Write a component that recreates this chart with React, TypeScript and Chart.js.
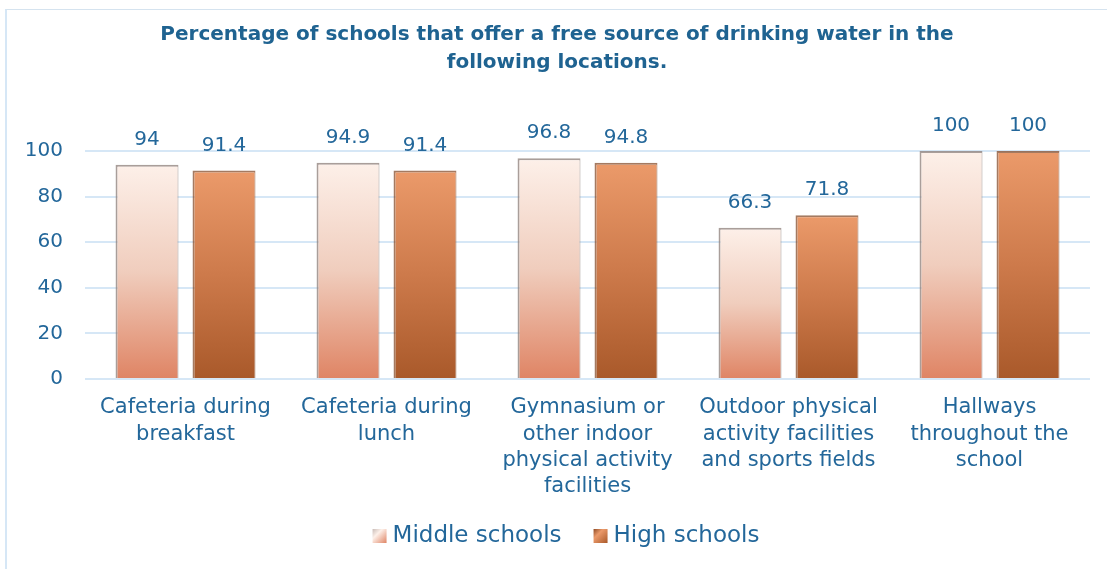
import React, { useEffect, useRef } from "react";
import { Chart, registerables } from "chart.js";

Chart.register(...registerables);

const titleLines = [
  "Percentage of schools that offer a free source of drinking water in the",
  "following locations.",
];
const categories: string[][] = [
  ["Cafeteria during", "breakfast"],
  ["Cafeteria during", "lunch"],
  ["Gymnasium or", "other indoor", "physical activity", "facilities"],
  ["Outdoor physical", "activity facilities", "and sports fields"],
  ["Hallways", "throughout the", "school"],
];
const seriesNames = ["Middle schools", "High schools"];
const middleSchools = [94, 94.9, 96.8, 66.3, 100];
const highSchools = [91.4, 91.4, 94.8, 71.8, 100];
const yMin = 0;
const yMax = 100;
const yStep = 20;

const BLUE = "#23679a";
const FONT = '"DejaVu Sans", sans-serif';

const gradStops = [
  ["#fdf0e9", "#f0cdbd", "#df8464"],
  ["#eb9a6a", "#cd7a4b", "#a9592a"],
];
const borderCols = ["rgba(140,125,120,0.75)", "rgba(125,65,30,0.7)"];

function barGradient(ctx: any, di: number) {
  const chart = ctx.chart;
  const { chartArea, scales } = chart;
  if (!chartArea || !scales || !scales.y || ctx.type !== "data") return gradStops[di][1];
  const v = ctx.raw as number;
  const top = scales.y.getPixelForValue(v);
  const bottom = scales.y.getPixelForValue(0);
  const g = chart.ctx.createLinearGradient(0, top, 0, bottom);
  g.addColorStop(0, gradStops[di][0]);
  g.addColorStop(0.5, gradStops[di][1]);
  g.addColorStop(1, gradStops[di][2]);
  return g;
}

const titlePlugin = {
  id: "customTitle",
  afterDraw(chart: any) {
    const ctx = chart.ctx;
    ctx.save();
    ctx.font = `bold 20px ${FONT}`;
    ctx.fillStyle = "#1f6391";
    ctx.textAlign = "center";
    ctx.textBaseline = "middle";
    titleLines.forEach((line, i) => {
      ctx.fillText(line, 557, 35 + i * 28);
    });
    ctx.restore();
  },
};

const labelsPlugin = {
  id: "valueLabels",
  afterDatasetsDraw(chart: any) {
    const ctx = chart.ctx;
    ctx.save();
    ctx.font = `20px ${FONT}`;
    ctx.fillStyle = BLUE;
    ctx.textAlign = "center";
    ctx.textBaseline = "middle";
    chart.data.datasets.forEach((ds: any, i: number) => {
      const meta = chart.getDatasetMeta(i);
      meta.data.forEach((el: any, j: number) => {
        ctx.fillText(String(ds.data[j]), el.x, el.y - 25);
      });
    });
    ctx.restore();
  },
};

const legendPlugin = {
  id: "customLegend",
  afterDraw(chart: any) {
    const ctx = chart.ctx;
    ctx.save();
    ctx.font = `23px ${FONT}`;
    const box = 14;
    const gapBoxText = 6;
    const gapItems = 32;
    const widths = seriesNames.map((n) => ctx.measureText(n).width);
    const total = widths.reduce((a, w) => a + box + gapBoxText + w, 0) + gapItems;
    let x = 566 - total / 2;
    const cy = 536;
    seriesNames.forEach((name, i) => {
      const g = ctx.createLinearGradient(x, cy - box / 2, x + box, cy + box / 2);
      g.addColorStop(0, i === 0 ? "#c9bcb7" : "#8e4a24");
      g.addColorStop(0.35, gradStops[i][0]);
      g.addColorStop(1, gradStops[i][2]);
      ctx.fillStyle = g;
      ctx.fillRect(x, cy - box / 2, box, box);
      x += box + gapBoxText;
      ctx.fillStyle = BLUE;
      ctx.textAlign = "left";
      ctx.textBaseline = "middle";
      ctx.fillText(name, x, cy);
      x += widths[i] + gapItems;
    });
    ctx.restore();
  },
};

export default function App() {
  const ref = useRef<HTMLCanvasElement>(null);
  useEffect(() => {
    if (!ref.current) return;
    const chart = new Chart(ref.current, {
      type: "bar",
      data: {
        labels: categories,
        datasets: [middleSchools, highSchools].map((d, i) => ({
          label: seriesNames[i],
          data: d,
          backgroundColor: (c: any) => barGradient(c, i),
          borderColor: borderCols[i],
          borderWidth: { top: 2, left: 2, right: 1, bottom: 0 },
          borderSkipped: false,
          categoryPercentage: 0.766,
          barPercentage: 0.818,
        })),
      },
      options: {
        animation: false,
        responsive: false,
        layout: { padding: { left: 0, right: 17, top: 151, bottom: 70 } },
        plugins: {
          legend: { display: false },
          tooltip: { enabled: false },
          title: { display: false },
        },
        scales: {
          x: {
            grid: { display: false, drawTicks: false },
            border: { display: false },
            ticks: {
              color: BLUE,
              font: { family: FONT, size: 21, lineHeight: 1.24 },
              padding: 16,
              maxRotation: 0,
              autoSkip: false,
            },
            afterFit: (s: any) => {
              s.height = 120;
            },
          },
          y: {
            min: yMin,
            max: yMax,
            grid: { color: "#d6e7f6", lineWidth: 2, drawTicks: false },
            border: { display: false },
            ticks: {
              stepSize: yStep,
              color: BLUE,
              font: { family: FONT, size: 20 },
              padding: 22,
            },
            afterFit: (s: any) => {
              s.width = 85;
            },
          },
        },
      },
      plugins: [labelsPlugin, legendPlugin, titlePlugin],
    });
    return () => chart.destroy();
  }, []);
  return (
    <>
      <div
        style={{
          position: "fixed",
          left: 5,
          top: 9,
          right: 0,
          bottom: 0,
          borderTop: "1px solid #d5e3ef",
          borderLeft: "2px solid #d6e7f6",
        }}
      />
      <canvas
        ref={ref}
        width={1107}
        height={569}
        style={{ position: "fixed", left: 0, top: 0, display: "block" }}
      />
    </>
  );
}
